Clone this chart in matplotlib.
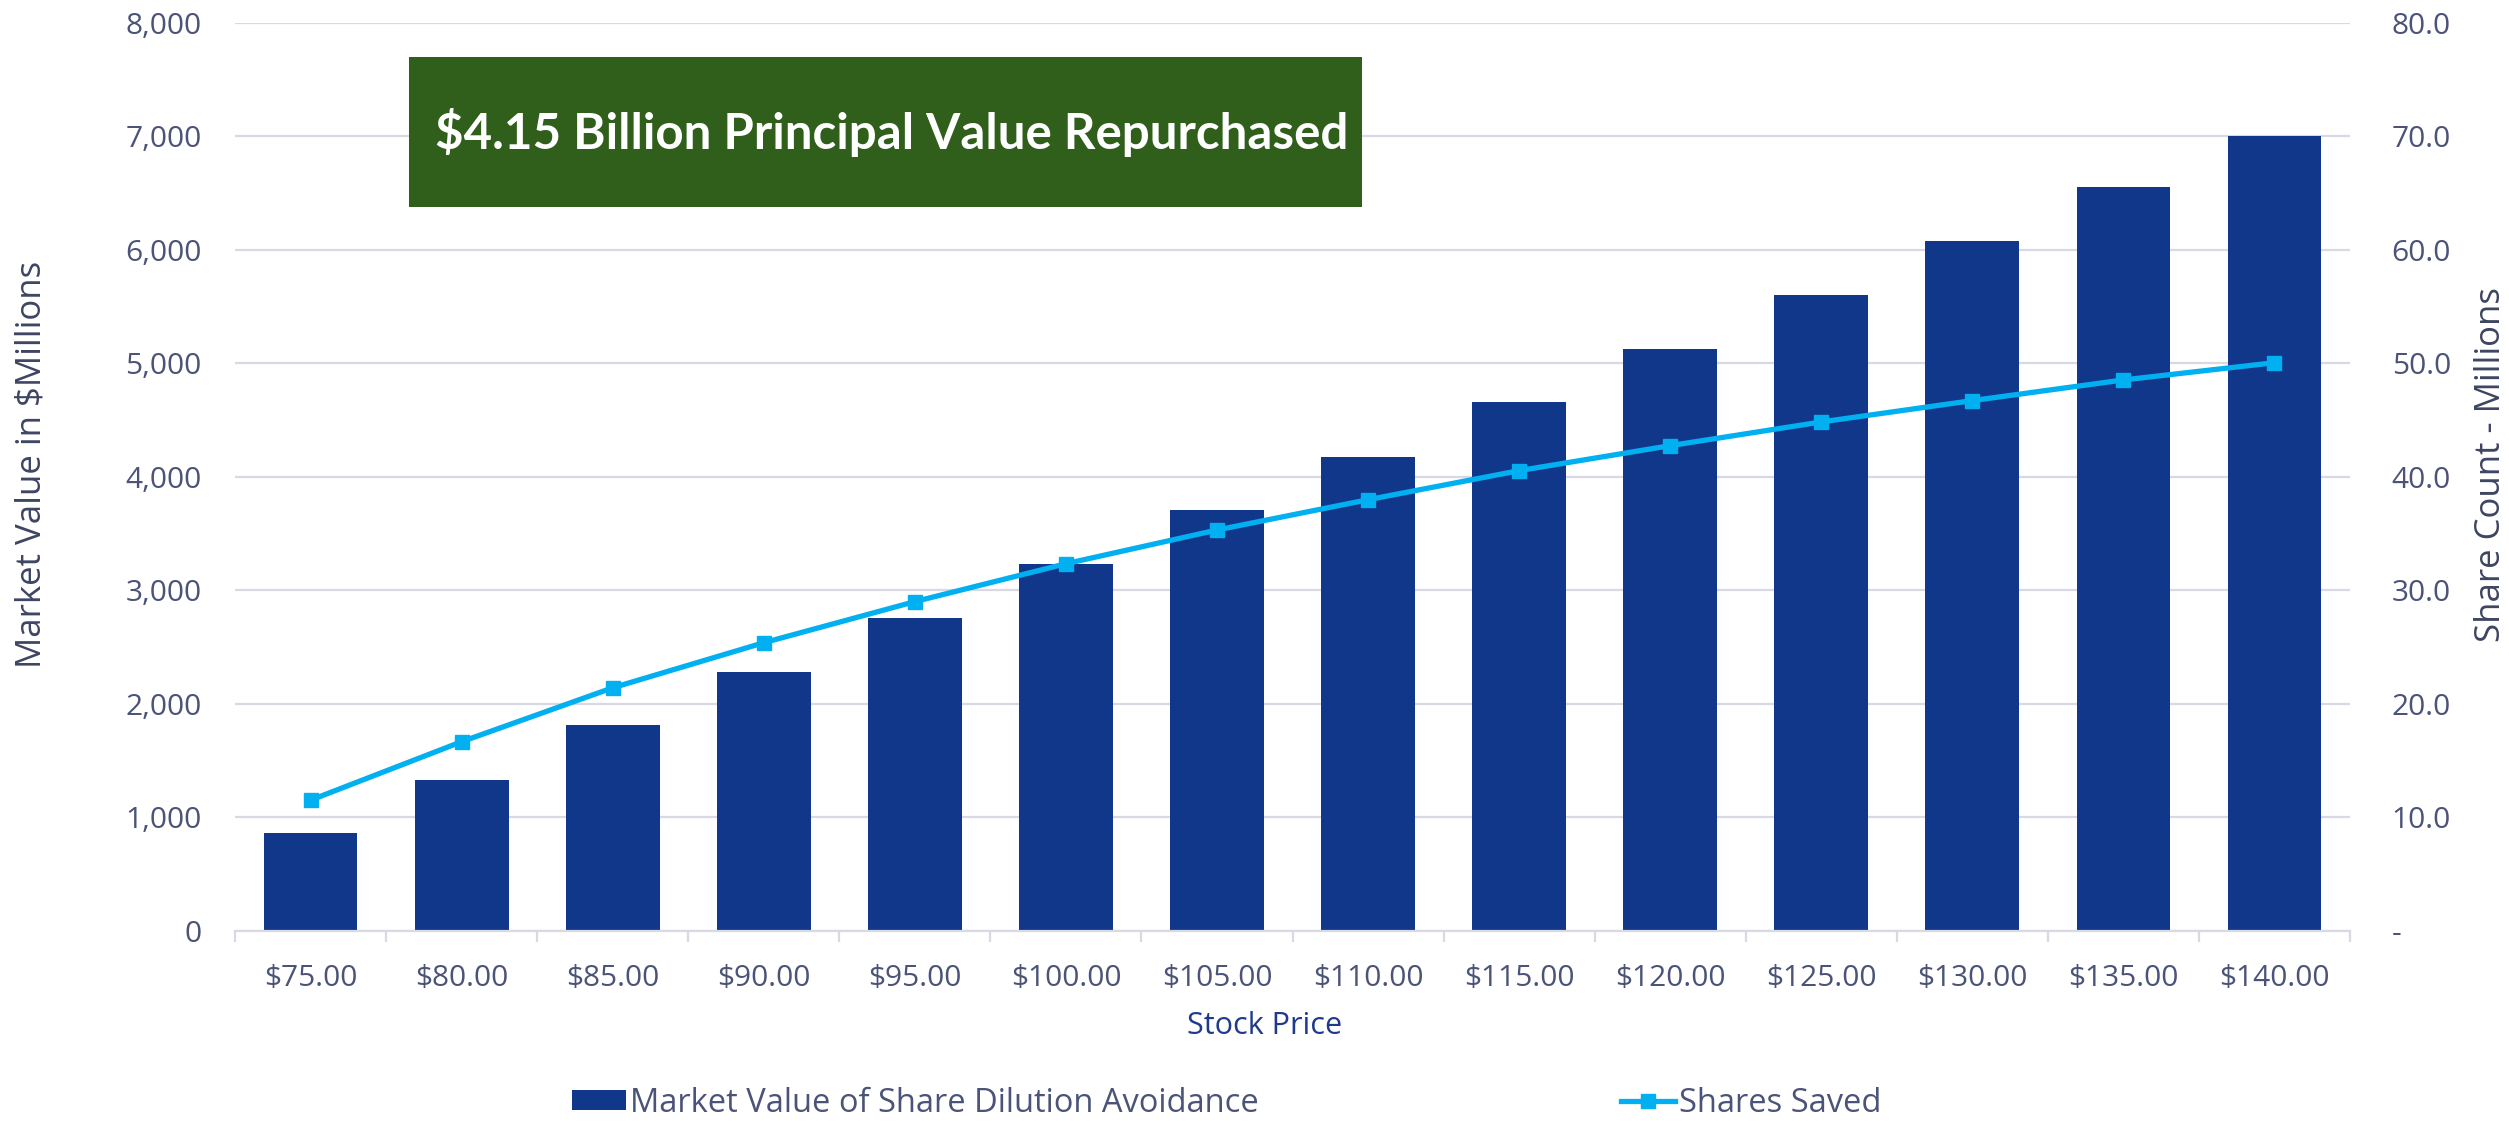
import matplotlib.pyplot as plt
from matplotlib.patches import Rectangle
from matplotlib.lines import Line2D
from matplotlib.patches import Patch
from matplotlib.ticker import FuncFormatter, FixedLocator
import numpy as np

# ==============================================================================
# DADOS
# ==============================================================================
precos = ['$75.00', '$80.00', '$85.00', '$90.00', '$95.00', '$100.00', '$105.00',
          '$110.00', '$115.00', '$120.00', '$125.00', '$130.00', '$135.00', '$140.00']
valor_mercado = [863, 1330, 1810, 2282, 2755, 3228, 3704,
                 4176, 4658, 5122, 5598, 6074, 6552, 7005]
acoes_salvas = [11.5, 16.65, 21.4, 25.37, 28.99, 32.33, 35.30,
                37.97, 40.53, 42.73, 44.82, 46.70, 48.52, 50.04]

titulo_caixa = '$4.15 Billion Principal Value Repurchased'
nome_barras = 'Market Value of Share Dilution Avoidance'
nome_linha = 'Shares Saved'

# ==============================================================================
# ESTILO
# ==============================================================================
COR_BARRA = '#10378A'
COR_LINHA = '#00B0F0'
COR_GRADE = '#D9D9E4'
COR_TEXTO = '#4B5478'
COR_ROTULO = '#3E4562'
COR_EIXO_X = '#1F3A8C'
COR_CAIXA = '#2F5F1B'

plt.rcParams['font.family'] = ['Open Sans', 'DejaVu Sans']

fig = plt.figure(figsize=(25.09, 11.21), dpi=100)
ax = fig.add_axes([0.0937, 0.1698, 0.8429, 0.8100])
ax2 = ax.twinx()

x = np.arange(len(precos))
ax.bar(x, valor_mercado, width=0.62, color=COR_BARRA, zorder=2)
ax2.plot(x, acoes_salvas, color=COR_LINHA, lw=3.8, marker='s', markersize=10,
         zorder=3)

ax.set_xlim(-0.5, len(precos) - 0.5)
ax.set_ylim(0, 8000)
ax2.set_ylim(0, 80)
ax.set_yticks(np.arange(0, 8001, 1000))
ax2.set_yticks(np.arange(0, 81, 10))
ax.yaxis.set_major_formatter(FuncFormatter(lambda v, p: f'{v:,.0f}'))
ax2.yaxis.set_major_formatter(FuncFormatter(lambda v, p: '-' if v == 0 else f'{v:.1f}'))

ax.grid(axis='y', color=COR_GRADE, lw=1.6, zorder=0)
ax.set_axisbelow(True)
for s in ['top', 'left', 'right']:
    ax.spines[s].set_visible(False)
    ax2.spines[s].set_visible(False)
ax2.spines['bottom'].set_visible(False)
ax.spines['bottom'].set_color(COR_GRADE)
ax.spines['bottom'].set_linewidth(1.6)

ax.set_xticks(x)
ax.set_xticklabels(precos)
ax.xaxis.set_minor_locator(FixedLocator(np.arange(-0.5, len(precos), 1.0)))
ax.tick_params(axis='x', which='major', length=0, pad=24, labelsize=21.5,
               labelcolor=COR_TEXTO)
ax.tick_params(axis='x', which='minor', length=8, width=1.6, color=COR_GRADE)
ax.tick_params(axis='y', length=0, pad=24, labelsize=21.5, labelcolor=COR_TEXTO)
ax2.tick_params(axis='y', length=0, pad=30, labelsize=21.5, labelcolor=COR_TEXTO)

ax.set_ylabel('Market Value in $Millions', fontsize=25, color=COR_ROTULO)
ax.yaxis.set_label_coords(-0.088, 0.513)
ax2.set_ylabel('Share Count - Millions', fontsize=25, color=COR_ROTULO)
ax2.yaxis.set_label_coords(1.0585, 0.513)
ax.set_xlabel('Stock Price', fontsize=22, color=COR_EIXO_X)
ax.xaxis.set_label_coords(0.487, -0.089)

# caixa verde com o destaque
fig.patches.append(Rectangle((0.1630, 0.8156), 0.3798, 0.1338,
                             transform=fig.transFigure, facecolor=COR_CAIXA,
                             edgecolor='none', zorder=5))
fig.text(0.3555, 0.8820, titulo_caixa, fontsize=35.5, fontweight='bold',
         family=['Lato', 'DejaVu Sans'],
         color='white', ha='center', va='center', zorder=6)

# legenda
handles = [Patch(facecolor=COR_BARRA, edgecolor='none'),
           Line2D([], [], color=COR_LINHA, lw=3.8, marker='s', markersize=10)]
fig.legend(handles, [nome_barras, nome_linha], loc='center', ncol=2,
           bbox_to_anchor=(0.489, 0.016), frameon=False, fontsize=23.5,
           labelcolor=COR_TEXTO, handlelength=1.65, handleheight=0.58,
           handletextpad=0.12, columnspacing=11.1)

fig.savefig('out.png', dpi=100, facecolor='white')
